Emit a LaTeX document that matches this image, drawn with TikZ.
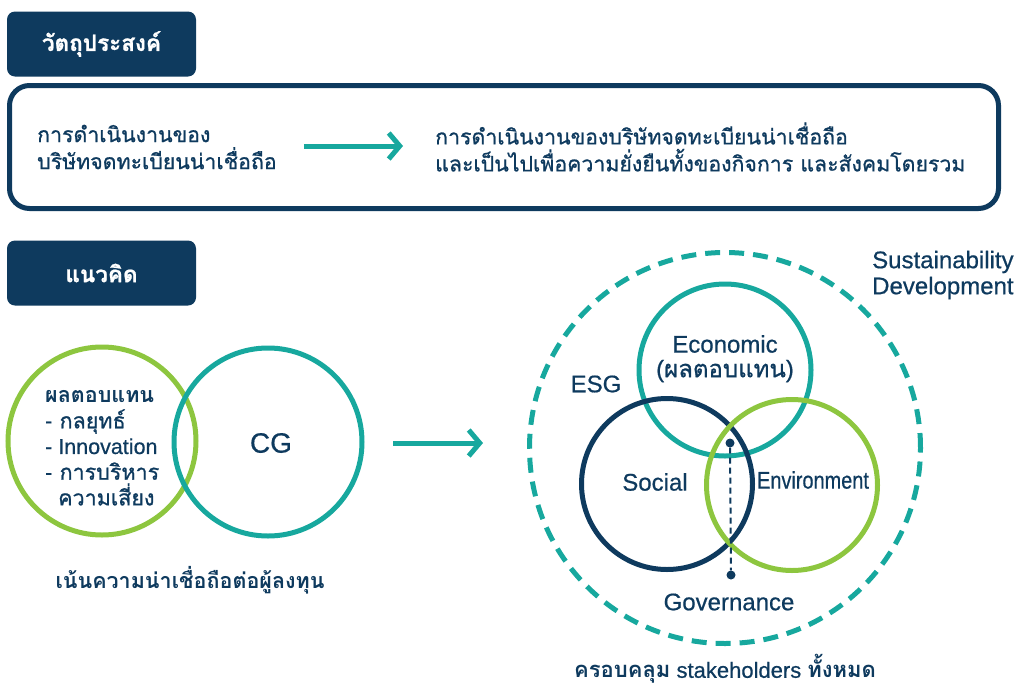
\documentclass[tikz,border=0pt]{standalone}
\usepackage{fontspec}
\usepackage{graphicx}
\setmainfont{Liberation Sans}[FakeBold=0.6]
\newfontfamily\latm{Liberation Sans}[FakeBold=0.6]
\newfontfamily\thai[Script=Thai]{Loma}[FakeBold=0.9]
\newfontfamily\thaib[Script=Thai]{Loma Bold}
\usetikzlibrary{arrows.meta}
\definecolor{cnavy}{HTML}{0E3A5E}
\definecolor{cteal}{HTML}{17A89E}
\definecolor{cgreen}{HTML}{8DC63F}
\begin{document}
\begin{tikzpicture}[x=1pt,y=-1pt,
  headbox/.style={fill=cnavy, rounded corners=8pt, minimum width=189pt, minimum height=65pt, text=white, inner sep=0pt, font=\fontsize{22.5}{26}\selectfont\thai\bfseries},
  txt/.style={text=cnavy, inner sep=0pt, align=left},
  ring/.style={circle, line width=5pt, inner sep=0pt},
  dotnode/.style={circle, fill=cnavy, minimum size=9pt, inner sep=0pt},
  arr/.style={draw=cteal, line width=5pt, -{Straight Barb[length=11pt, width=26pt, line width=5pt]}},
  lab/.style={text=cnavy, inner sep=0pt, font=\fontsize{24}{26}\selectfont\latm}
]
\useasboundingbox (0,0) rectangle (1017,686);

% headings
\node[headbox] (h1) at (101.5,44) {วัตถุประสงค์};
\node[headbox] (h2) at (101.5,273) {แนวคิด};

% objective box
\node[draw=cnavy, line width=5pt, rounded corners=20pt, minimum width=989pt, minimum height=123pt, inner sep=0pt] (obj) at (504,147) {};
\node[txt, anchor=west, font=\fontsize{21.3}{27}\selectfont\thai] (o1) at (37,147) {การดำเนินงานของ\\บริษัทจดทะเบียนน่าเชื่อถือ};
\node[txt, anchor=west, font=\fontsize{21.3}{27}\selectfont\thai] (o2) at (435,147) {การดำเนินงานของบริษัทจดทะเบียนน่าเชื่อถือ\\และเป็นไปเพื่อความยั่งยืนทั้งของกิจการ และสังคมโดยรวม};
\draw[arr] ([xshift=27pt]o1.east |- 0,146) -- ([xshift=-32pt]o2.west |- 0,146);

% left venn
\node[ring, draw=cgreen, minimum size=188pt] (ret) at (102,441) {};
\node[ring, draw=cteal, minimum size=188pt] (cg) at (268,442) {};
\node[lab, font=\fontsize{28}{30}\selectfont\latm] (cgt) at (271,443) {CG};
\node[txt, anchor=west, font=\fontsize{21.5}{25.7}\selectfont\thai] (rett) at (45,448) {{\thaib ผลตอบแทน}\\{\latm -} กลยุทธ์\\{\latm - Innovation}\\{\latm -} การบริหาร\\\hspace*{13pt}ความเสี่ยง};
\node[txt, font=\fontsize{21.5}{25}\selectfont\thaib] (inv) at (190,580) {เน้นความน่าเชื่อถือต่อผู้ลงทุน};

% middle arrow
\coordinate (m1) at (393,443);
\coordinate (m2) at (483,443);
\draw[arr] (m1) -- (m2);

% right venn
\node[ring, draw=cteal, dash pattern=on 15pt off 9pt, minimum size=391pt] (sd) at (725,448) {};
\node[ring, draw=cteal, minimum size=172pt] (eco) at (725,370) {};
\node[ring, draw=cnavy, minimum size=171pt] (soc) at (667,484) {};
\node[ring, draw=cgreen, minimum size=171pt] (env) at (792,485) {};

\node[dotnode] (d1) at (730,443) {};
\node[dotnode] (d2) at (731,575) {};
\draw[cnavy, line width=2pt, dash pattern=on 6pt off 4pt] (d1) -- (d2);

\node[lab] (ecot) at (725,344) {Economic};
\node[lab] (ecot2) at (725,371) {({\thai ผลตอบแทน})};
\node[lab] (esg) at (596,384) {ESG};
\node[lab] (soct) at (655,482) {Social};
\node[lab] (envt) at (813,480) {\scalebox{0.83}[1]{Environment}};
\node[lab] (gov) at (729,602) {Governance};
\node[lab, anchor=west, align=left] (sus) at (872,275) {Sustainability\\Development};
\node[lab, font=\fontsize{22}{26}\selectfont\latm] (stk) at (725,669) {{\thaib ครอบคลุม} stakeholders {\thaib ทั้งหมด}};
\end{tikzpicture}
\end{document}
